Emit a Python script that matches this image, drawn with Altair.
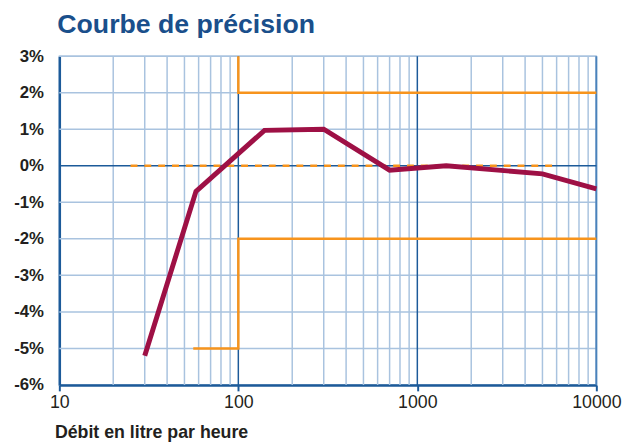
import altair as alt
import pandas as pd

# --- data ---
flow = [30, 58, 140, 300, 700, 1450, 5000, 10000]
error_pct = [-5.2, -0.7, 0.97, 1.0, -0.12, 0.0, -0.22, -0.63]

upper_x = [100, 100, 10000]
upper_y = [3, 2, 2]
lower_x = [56, 100, 100, 10000]
lower_y = [-5, -5, -2, -2]
ref_x = [25, 6000]
ref_y = [0, 0]

minor_x = [20, 30, 40, 50, 60, 70, 80, 90,
           200, 300, 400, 500, 600, 700, 800, 900,
           2000, 3000, 4000, 5000, 6000, 7000, 8000, 9000]
major_x = [100, 1000]
edge_x = [10000]
grid_y = [-5, -4, -3, -2, -1, 1, 2, 3]
zero_y = [0]
x_ticks = [10, 100, 1000, 10000]
y_ticks = [-6, -5, -4, -3, -2, -1, 0, 1, 2, 3]

LIGHT = "#a9c3df"
DARK = "#1c5a99"
MID = "#4a82bb"
ORANGE = "#f7941d"
CURVE = "#9e1045"
TEXT = "#231f20"

xs = alt.Scale(type="log", domain=[10, 10000], nice=False)
ys = alt.Scale(domain=[-6, 3], nice=False, zero=False)

x_axis = alt.Axis(values=x_ticks, format="d", grid=False,
                  title="Débit en litre par heure",
                  titleAnchor="start", titleAlign="left",
                  titleX=-5, titleY=53, titleBaseline="alphabetic",
                  titleFont="Liberation Sans", titleFontSize=18,
                  titleFontWeight="bold", titleColor=TEXT,
                  labelFont="Liberation Sans", labelFontSize=18,
                  labelColor=TEXT, labelPadding=3,
                  ticks=True, tickSize=6, tickColor=DARK, tickWidth=2,
                  domainColor=DARK, domainWidth=2.5,
                  labelFlush=False, labelOverlap=False)
y_axis = alt.Axis(values=y_ticks, labelExpr="datum.value + '%'",
                  grid=False, title=None, ticks=False,
                  labelFont="Liberation Sans", labelFontSize=17,
                  labelFontWeight="bold", labelColor=TEXT,
                  labelPadding=16, domainColor=DARK, domainWidth=2.5)

X = lambda: alt.X("x:Q", scale=xs, axis=x_axis)
Y = lambda: alt.Y("y:Q", scale=ys, axis=y_axis)

curve_df = pd.DataFrame({"x": flow, "y": error_pct, "o": range(len(flow))})
up_df = pd.DataFrame({"x": upper_x, "y": upper_y, "o": range(len(upper_x))})
lo_df = pd.DataFrame({"x": lower_x, "y": lower_y, "o": range(len(lower_x))})
ref_df = pd.DataFrame({"x": ref_x, "y": ref_y})

vminor = alt.Chart(pd.DataFrame({"x": minor_x})).mark_rule(
    color=LIGHT, strokeWidth=1.5).encode(x=X())
hminor = alt.Chart(pd.DataFrame({"y": grid_y})).mark_rule(
    color=LIGHT, strokeWidth=1.5).encode(y=Y())
vmajor = alt.Chart(pd.DataFrame({"x": major_x})).mark_rule(
    color=DARK, strokeWidth=1.5).encode(x=X())
vedge = alt.Chart(pd.DataFrame({"x": edge_x})).mark_rule(
    color=MID, strokeWidth=2).encode(x=X())
hzero = alt.Chart(pd.DataFrame({"y": zero_y})).mark_rule(
    color=DARK, strokeWidth=1.5).encode(y=Y())

ref = alt.Chart(ref_df).mark_line(
    color=ORANGE, strokeWidth=2.5, strokeDash=[7, 7]).encode(x=X(), y=Y())
up = alt.Chart(up_df).mark_line(color=ORANGE, strokeWidth=2.5).encode(
    x=X(), y=Y(), order="o:Q")
lo = alt.Chart(lo_df).mark_line(color=ORANGE, strokeWidth=2.5).encode(
    x=X(), y=Y(), order="o:Q")

curve = alt.Chart(curve_df).mark_line(
    color=CURVE, strokeWidth=5, strokeJoin="miter").encode(
    x=X(), y=Y(), order="o:Q")

chart = alt.layer(vminor, hminor, vmajor, vedge, hzero, ref, up, lo, curve).properties(
    width=544, height=333,
    autosize=alt.AutoSizeParams(type="none"),
    padding={"left": 52, "top": 46, "right": 26, "bottom": 58},
    title=alt.TitleParams("Courbe de précision", anchor="start", frame="group",
                          font="Liberation Sans", fontSize=27, fontWeight="bold",
                          color="#1a4f8b", baseline="alphabetic", offset=-12, dx=-2),
).configure_view(stroke=LIGHT, strokeWidth=1.5)

chart.save("out.html", embed_options={"renderer": "svg", "actions": False})
